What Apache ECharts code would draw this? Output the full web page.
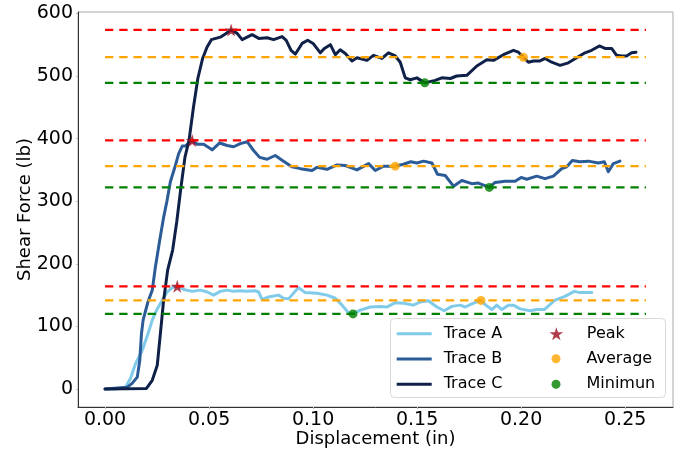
<!DOCTYPE html>
<html>
<head>
<meta charset="utf-8">
<script src="https://cdn.jsdelivr.net/npm/echarts@6.0.0/dist/echarts.min.js"></script>
<style>
  html, body { margin: 0; padding: 0; background: #fff; }
  #chart { width: 683px; height: 457px; }
</style>
</head>
<body>
<div id="chart"></div>
<script>
// Shear force vs. displacement for three traces, with peak / average / minimum levels.
const traceNames = ['Trace A', 'Trace B', 'Trace C'];

const traceA = [
  [0, 0], [0.005, 0], [0.0098, 3], [0.0122, 17], [0.0146, 40], [0.0179, 62], [0.0206, 88],
  [0.0227, 110], [0.0251, 128], [0.0275, 142], [0.0299, 155], [0.0323, 162], [0.0347, 164],
  [0.0378, 159], [0.0419, 156], [0.0458, 158], [0.0491, 155], [0.0522, 150], [0.0554, 156],
  [0.0587, 158], [0.0618, 156], [0.065, 157], [0.0683, 156], [0.0722, 157], [0.0738, 155],
  [0.0755, 143], [0.0786, 147], [0.0834, 150], [0.0858, 145], [0.0882, 144], [0.093, 162],
  [0.0962, 154], [0.1019, 153], [0.1067, 150], [0.1107, 145], [0.1139, 134], [0.117, 122],
  [0.1192, 120], [0.1227, 126], [0.1275, 131], [0.1323, 132], [0.1355, 131], [0.1395, 138],
  [0.1435, 137], [0.1482, 134], [0.1515, 139], [0.1554, 141], [0.1595, 131], [0.163, 125],
  [0.1667, 132], [0.1707, 134], [0.1731, 131], [0.1763, 136], [0.1807, 141.5], [0.183, 134],
  [0.1859, 127], [0.1883, 134], [0.1907, 127], [0.1939, 134], [0.1963, 134], [0.1995, 128],
  [0.2043, 125], [0.2075, 127], [0.2111, 127], [0.2163, 142], [0.2211, 148], [0.2255, 156],
  [0.2283, 154], [0.234, 154]
];

const traceB = [
  [0, 0], [0.0107, 3], [0.013, 9], [0.0155, 19], [0.0167, 46], [0.0175, 88], [0.0183, 110],
  [0.0206, 139], [0.0227, 158], [0.0242, 195], [0.0263, 238], [0.0282, 275], [0.0298, 301],
  [0.0314, 331], [0.0338, 357], [0.0354, 376], [0.0371, 388], [0.0386, 388], [0.0402, 393],
  [0.0419, 397], [0.0443, 391], [0.0474, 391], [0.0515, 382], [0.0551, 393], [0.0587, 389],
  [0.0618, 387], [0.065, 392], [0.0683, 395], [0.0714, 381], [0.0743, 370], [0.0779, 367],
  [0.0818, 373], [0.0858, 364], [0.0898, 355], [0.0939, 352], [0.0995, 349], [0.1019, 354],
  [0.1067, 351], [0.1115, 358], [0.1155, 357], [0.1211, 350], [0.1267, 360], [0.1299, 349],
  [0.1339, 356], [0.1395, 356], [0.1434, 359], [0.147, 363], [0.1499, 361], [0.1531, 364],
  [0.1571, 361], [0.1598, 343], [0.1635, 341], [0.1675, 324], [0.1715, 333], [0.1763, 328],
  [0.1795, 329], [0.1847, 322], [0.1875, 330], [0.1923, 332], [0.1971, 332], [0.2, 338],
  [0.2027, 335], [0.2075, 340], [0.2115, 336], [0.2155, 340], [0.2195, 352], [0.2219, 355],
  [0.2246, 365], [0.2283, 363], [0.2323, 364], [0.2371, 361], [0.24, 363], [0.2419, 347],
  [0.2443, 360], [0.2475, 364]
];

const traceC = [
  [0, 0], [0.0199, 1], [0.0227, 14], [0.0251, 38], [0.0269, 99], [0.0281, 140], [0.0301, 190],
  [0.0325, 222], [0.0345, 268], [0.0364, 320], [0.0384, 370], [0.0404, 398], [0.0425, 450],
  [0.0446, 496], [0.0469, 528], [0.049, 546], [0.0511, 558], [0.0554, 562], [0.0578, 567],
  [0.0606, 573.5], [0.0635, 568], [0.0659, 558], [0.0707, 566], [0.0739, 560], [0.0779, 561],
  [0.081, 558], [0.0851, 563], [0.0871, 557], [0.0894, 541], [0.0915, 535], [0.0947, 552],
  [0.0974, 557], [0.1, 552], [0.1035, 537], [0.1054, 544], [0.1083, 550], [0.1107, 534],
  [0.113, 542], [0.1155, 536], [0.1187, 524], [0.1211, 529], [0.1259, 525], [0.129, 533],
  [0.1331, 528], [0.1362, 537], [0.1395, 532], [0.1419, 522], [0.1443, 497], [0.1467, 494],
  [0.1499, 497], [0.1537, 489], [0.1587, 493], [0.1619, 497], [0.166, 496], [0.169, 500],
  [0.1739, 501], [0.1787, 516], [0.1835, 526], [0.1867, 525], [0.1915, 534], [0.1963, 541],
  [0.1987, 538], [0.2011, 530], [0.2035, 522], [0.2059, 524], [0.2091, 524], [0.2115, 528],
  [0.2147, 522], [0.2187, 517], [0.2227, 521], [0.2267, 529], [0.2307, 537], [0.2339, 541],
  [0.2376, 548], [0.2403, 544], [0.2435, 544], [0.2459, 533], [0.2483, 532], [0.2507, 532],
  [0.2531, 537], [0.2552, 538]
];

// Reference levels per trace (A, B, C)
const peakLevels = [164, 397, 573.5];
const avgLevels = [141.5, 356, 530];
const minLevels = [120, 322, 489];

// Marker locations per trace (A, B, C)
const peakPoints = [[0.0347, 164], [0.0419, 397], [0.0606, 573.5]];
const avgPoints = [[0.1807, 141.5], [0.1395, 356], [0.2011, 530]];
const minPoints = [[0.1192, 120], [0.1847, 322], [0.1537, 489]];

const refLineStart = 0;
const refLineEnd = 0.26;

const xTicks = [0, 0.05, 0.10, 0.15, 0.20, 0.25];
const yTicks = [0, 100, 200, 300, 400, 500, 600];

const FONT = 'DejaVu Sans';
const traceColors = ['#80cbe9', '#2b5c97', '#0f2148'];
const STAR = 'path://M0,-100 L22.45,-30.9 L95.11,-30.9 L36.33,11.8 L58.78,80.9 L0,38.2 L-58.78,80.9 L-36.33,11.8 L-95.11,-30.9 L-22.45,-30.9 Z';

const chart = echarts.init(document.getElementById('chart'), null, { renderer: 'canvas' });

const series = [];
[traceA, traceB, traceC].forEach((data, i) => {
  series.push({
    name: traceNames[i], type: 'line', data: data, color: traceColors[i],
    showSymbol: false, symbol: 'none', z: 2, animation: false,
    lineStyle: { width: 3, color: traceColors[i], join: 'round', cap: 'round' }
  });
});

function refLine(level, color) {
  return {
    type: 'line', silent: true, symbol: 'none', z: 4, animation: false,
    data: [[refLineStart, level], [refLineEnd, level]],
    lineStyle: { width: 2.2, color: color, type: [8.3, 5.9] }
  };
}
for (let i = 0; i < 3; i++) {
  series.push(refLine(peakLevels[i], '#ff0000'));
  series.push(refLine(avgLevels[i], '#ffa500'));
  series.push(refLine(minLevels[i], '#008000'));
}

series.push({
  name: 'Peak', type: 'scatter', data: peakPoints, symbol: STAR, symbolSize: 13,
  color: '#9c0c1e', itemStyle: { color: '#9c0c1e' }, z: 3, animation: false
});
series.push({
  name: 'Average', type: 'scatter', data: avgPoints, symbol: 'circle', symbolSize: 9,
  color: '#ffa500', itemStyle: { color: '#ffa500' }, z: 5, animation: false
});
series.push({
  name: 'Minimun', type: 'scatter', data: minPoints, symbol: 'circle', symbolSize: 9,
  color: '#008000', itemStyle: { color: '#008000' }, z: 5, animation: false
});

const legendText = { fontSize: 16, fontFamily: FONT, color: '#000' };

const option = {
  backgroundColor: '#fff',
  animation: false,
  textStyle: { fontFamily: FONT },
  grid: {
    left: 78, right: 10, top: 12, bottom: 50,
    outerBoundsMode: 'none', containLabel: false,
    show: true, borderColor: '#a8a8a8', borderWidth: 1, backgroundColor: 'transparent'
  },
  xAxis: {
    type: 'value', min: -0.013, max: 0.273,
    name: 'Displacement (in)', nameLocation: 'middle', nameGap: 23, nameMoveOverlap: false,
    nameTextStyle: { fontSize: 18, fontFamily: FONT, color: '#000' },
    axisLine: { show: true, onZero: false, lineStyle: { color: '#333', width: 1 } },
    axisTick: { show: true, length: 2, lineStyle: { color: '#bbb' }, customValues: xTicks },
    axisLabel: {
      fontSize: 19, fontFamily: FONT, color: '#000', margin: 4,
      customValues: xTicks, formatter: v => v.toFixed(2)
    },
    splitLine: { show: false }
  },
  yAxis: {
    type: 'value', min: -28.7, max: 602.2,
    name: 'Shear Force (lb)', nameLocation: 'middle', nameGap: 44, nameRotate: 90, nameMoveOverlap: false,
    nameTextStyle: { fontSize: 18, fontFamily: FONT, color: '#000' },
    axisLine: { show: true, onZero: false, lineStyle: { color: '#333', width: 1 } },
    axisTick: { show: true, length: 2, lineStyle: { color: '#bbb' }, customValues: yTicks },
    axisLabel: {
      fontSize: 19, fontFamily: FONT, color: '#000', margin: 5,
      customValues: yTicks, formatter: v => String(v)
    },
    splitLine: { show: false }
  },
  graphic: [{
    type: 'rect', z: 50,
    shape: { x: 390.5, y: 318.5, width: 275, height: 79, r: 4 },
    style: { fill: '#ffffff', stroke: '#d9d9d9', lineWidth: 1 }
  }],
  legend: [
    {
      data: traceNames.map(n => ({ name: n, icon: 'rect' })),
      orient: 'vertical', left: 396.7, top: 325.7, padding: 0, z: 60,
      itemWidth: 35, itemHeight: 3, itemGap: 9.3, selectedMode: false,
      textStyle: Object.assign({ padding: [0, 0, 0, 7] }, legendText)
    },
    {
      data: [{ name: 'Peak', icon: STAR }], left: 549.5, top: 325.7, padding: 0, z: 60,
      itemWidth: 35, itemHeight: 13, selectedMode: false,
      textStyle: Object.assign({ padding: [0, 0, 0, 8] }, legendText)
    },
    {
      data: [{ name: 'Average', icon: 'circle' }], left: 551.5, top: 350.7, padding: 0, z: 60,
      itemWidth: 35, itemHeight: 9, selectedMode: false,
      textStyle: Object.assign({ padding: [0, 0, 0, 8] }, legendText)
    },
    {
      data: [{ name: 'Minimun', icon: 'circle' }], left: 551.5, top: 376.3, padding: 0, z: 60,
      itemWidth: 35, itemHeight: 9, selectedMode: false,
      textStyle: Object.assign({ padding: [0, 0, 0, 8] }, legendText)
    }
  ],
  series: series
};

chart.setOption(option);
</script>
</body>
</html>
